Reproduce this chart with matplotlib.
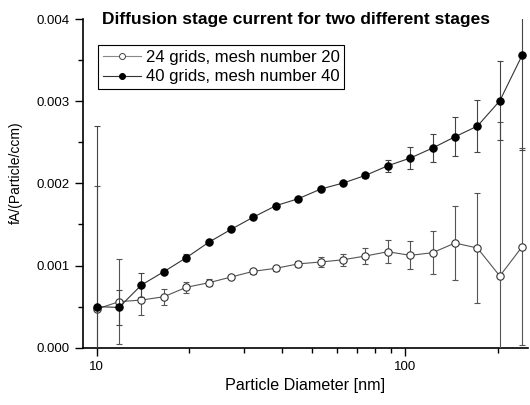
import matplotlib.pyplot as plt
from matplotlib.lines import Line2D
from matplotlib.ticker import FixedLocator, NullFormatter, MultipleLocator, FormatStrFormatter

plt.rcParams['font.family'] = ['Liberation Sans', 'DejaVu Sans']

# particle diameter [nm]
diam = [10.0, 11.82, 13.97, 16.52, 19.53, 23.08, 27.29, 32.26, 38.13, 45.08,
        53.29, 63.0, 74.5, 88.0, 104.1, 123.0, 145.4, 171.9, 203.2, 240.2]

# 24 grids, mesh number 20 (open circles)
cur_24 = [0.00047, 0.00056, 0.00058, 0.00062, 0.000735, 0.00079, 0.00086, 0.00093, 0.000966, 0.00102,
          0.001043, 0.00107, 0.001116, 0.001168, 0.001124, 0.001156, 0.001274, 0.001213, 0.000872, 0.00123]
err_24 = [0.0015, 0.00052, 0.00018, 0.0001, 0.00007, 0.00004, 0.00003, 0.00003, 0.00003, 0.00004,
          0.000065, 0.000075, 0.000095, 0.000138, 0.00017, 0.000264, 0.000456, 0.00067, 0.00187, 0.0012]

# 40 grids, mesh number 40 (filled circles)
cur_40 = [0.0005, 0.00049, 0.000763, 0.000925, 0.001095, 0.001282, 0.00144, 0.00159, 0.001728, 0.001813,
          0.00193, 0.002004, 0.002097, 0.002214, 0.002308, 0.00243, 0.002567, 0.002697, 0.003005, 0.003561]
err_40 = [0.0022, 0.00021, 0.00014, 0.00003, 0.00004, 0.00002, 0.00002, 0.00002, 0.00002, 0.00002,
          0.00002, 0.00002, 0.00003, 0.000073, 0.000136, 0.000176, 0.00024, 0.00032, 0.00048, 0.00116]

labels = ['24 grids, mesh number 20', '40 grids, mesh number 40']

fig = plt.figure(figsize=(5.3, 4.05), dpi=100)
ax = fig.add_axes([0.1566, 0.1415, 0.8394, 0.8115])

ax.errorbar(diam, cur_24, yerr=err_24, fmt='-o', color='#555555', lw=0.8,
            mfc='white', mec='#333333', ms=5.3, mew=0.8, ecolor='#555555',
            elinewidth=0.8, capsize=2.5, capthick=0.8, zorder=3)
ax.errorbar(diam, cur_40, yerr=err_40, fmt='-o', color='#333333', lw=0.8,
            mfc='black', mec='black', ms=5.3, mew=0.8, ecolor='#444444',
            elinewidth=0.8, capsize=2.5, capthick=0.8, zorder=4)

ax.set_xscale('log')
ax.set_xlim(9.03, 250.6)
ax.set_ylim(0, 0.004)

ax.xaxis.set_major_locator(FixedLocator([10, 100]))
ax.xaxis.set_major_formatter(FormatStrFormatter('%d'))
ax.xaxis.set_minor_locator(FixedLocator([20, 30, 40, 50, 60, 70, 80, 90, 200]))
ax.xaxis.set_minor_formatter(NullFormatter())
ax.yaxis.set_major_locator(MultipleLocator(0.001))
ax.yaxis.set_minor_locator(MultipleLocator(0.0005))
ax.yaxis.set_major_formatter(FormatStrFormatter('%.3f'))

for s in ['top', 'right']:
    ax.spines[s].set_visible(False)
for s in ['left', 'bottom']:
    ax.spines[s].set_linewidth(1.2)

ax.tick_params(which='major', direction='out', length=6, width=1, labelsize=9.5)
ax.tick_params(which='minor', direction='out', length=3.5, width=1)

ax.set_xlabel('Particle Diameter [nm]', fontsize=11.6, labelpad=4)
ax.set_ylabel('fA/(Particle/ccm)', fontsize=10)
ax.yaxis.set_label_coords(-0.135, 0.532)
fig.text(0.558, 0.953, 'Diffusion stage current for two different stages',
         fontsize=12.5, fontweight='bold', ha='center', va='center')

handles = [Line2D([], [], color='#888888', lw=0.8, marker='o', ms=4.3,
                  mfc='white', mec='#444444', mew=0.7),
           Line2D([], [], color='#333333', lw=0.8, marker='o', ms=4.3,
                  mfc='black', mec='black', mew=0.7)]
leg = ax.legend(handles, labels, loc='upper left', bbox_to_anchor=(0.034, 0.92), fontsize=12,
                frameon=True, fancybox=False, edgecolor='black', framealpha=1,
                handlelength=2.3, handletextpad=0.25, borderpad=0.3, labelspacing=0.25,
                borderaxespad=0)
leg.get_frame().set_linewidth(0.8)

fig.savefig('out.png', dpi=100)
